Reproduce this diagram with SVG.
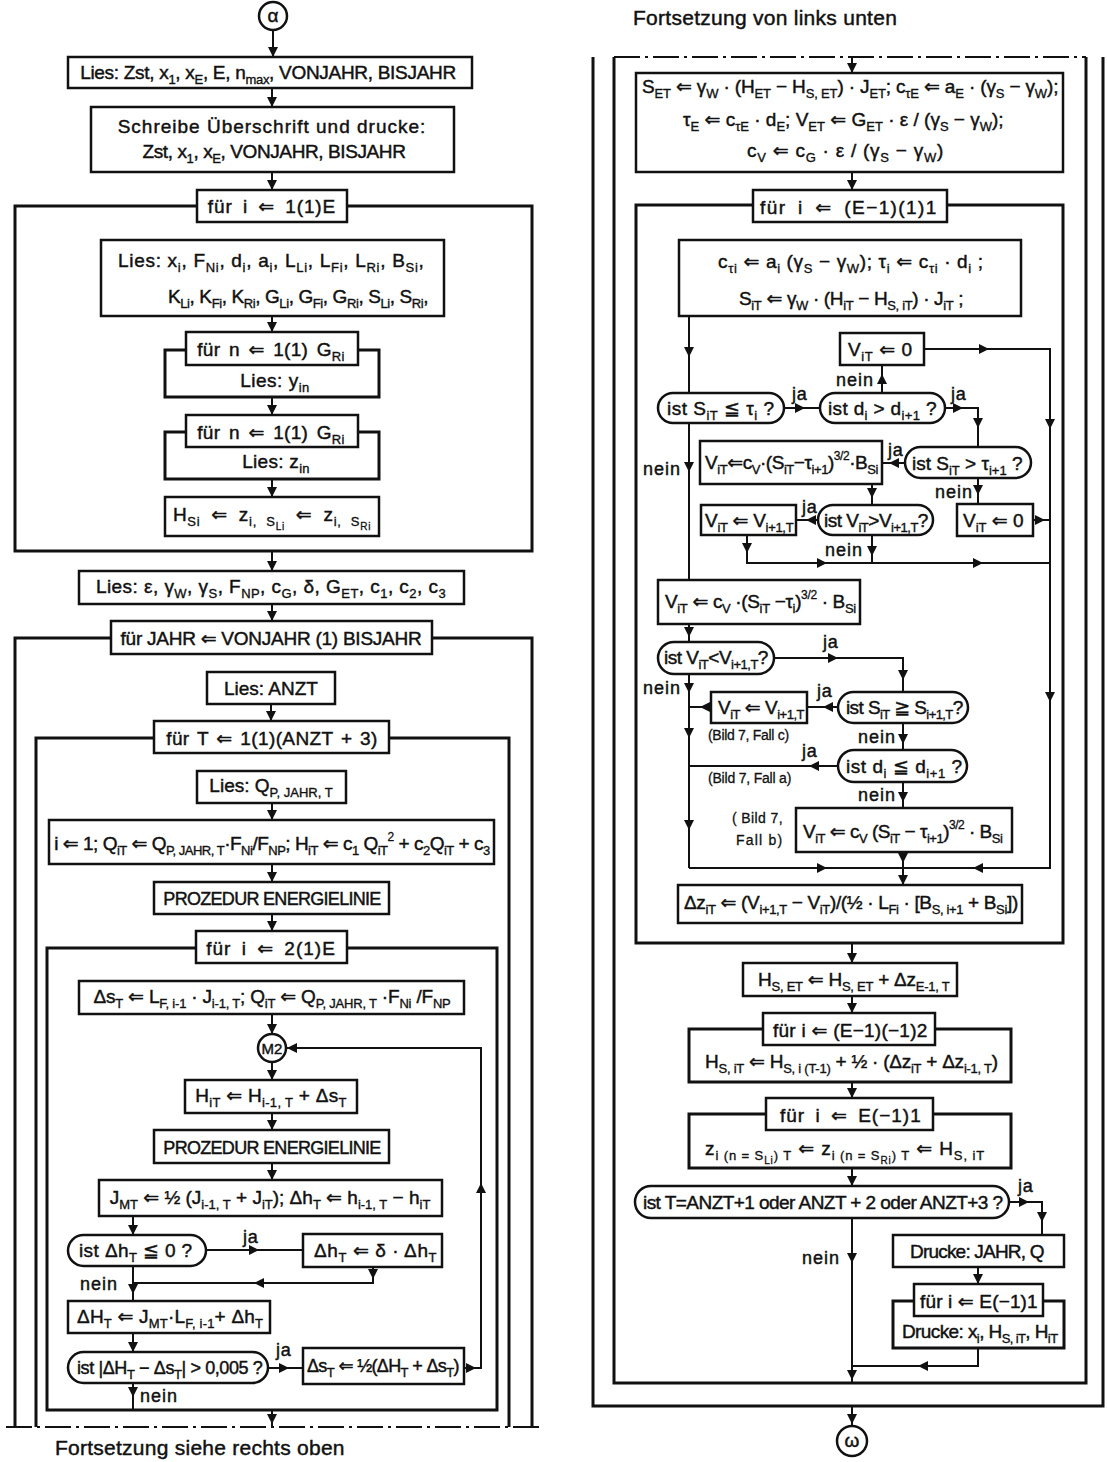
<svg xmlns="http://www.w3.org/2000/svg" width="1107" height="1462" viewBox="0 0 1107 1462">
<style>
text{font-family:"Liberation Sans","DejaVu Sans",sans-serif;font-size:19px;fill:#111;stroke:#111;stroke-width:0.45}
.m{text-anchor:middle}
.lb{font-size:18px}
.nn{letter-spacing:1px}
.ja{letter-spacing:0.8px}
.sm{font-size:14px;stroke-width:0.3}
.hd{font-size:21px}
.b{fill:#fff;stroke:#111;stroke-width:2.5}
.fr{fill:none;stroke:#111;stroke-width:3}
.c{fill:none;stroke:#111;stroke-width:2}
.dd{fill:none;stroke:#111;stroke-width:2;stroke-dasharray:26 5 3 5}
.a{fill:#111}
.sb{font-size:13px;baseline-shift:-5px;stroke-width:0.35}
.ss{font-size:10px;baseline-shift:-9px;stroke-width:0.3}
.sp{font-size:12px;baseline-shift:9px;stroke-width:0.3}
</style>
<defs>
<path id="ad" d="M-5,-10H5L0,0Z"/>
<path id="au" d="M-5,10H5L0,0Z"/>
<path id="ar" d="M-10,-5V5L0,0Z"/>
<path id="al" d="M10,-5V5L0,0Z"/>
</defs>
<rect width="1107" height="1462" fill="#fff"/>

<!-- LEFT COLUMN NODES -->
<g id="n01-alpha"><circle class="b" cx="273" cy="16" r="14"/><text class="m" x="273" y="22">α</text></g>
<g id="n02-lies-zst"><rect class="b" x="68" y="57" width="404" height="31"/><text class="m" x="268" y="79" style="letter-spacing:-0.3px">Lies: Zst, x<tspan class="sb">1</tspan>, x<tspan class="sb">E</tspan>, E, n<tspan class="sb">max</tspan>, VONJAHR, BISJAHR</text></g>
<g id="n03-schreibe"><rect class="b" x="91" y="107" width="363" height="65"/><text class="m" x="272" y="133" style="letter-spacing:1px">Schreibe Überschrift und drucke:</text><text class="m" x="274" y="158" style="letter-spacing:-0.4px">Zst, x<tspan class="sb">1</tspan>, x<tspan class="sb">E</tspan>, VONJAHR, BISJAHR</text></g>
<g id="n04-loop-i1"><path class="fr" d="M197,206H15V551H532V206H347"/><rect class="b" x="197" y="190" width="150" height="32"/><text class="m" x="272" y="213" style="word-spacing:4px;letter-spacing:0.9px">für i ⇐ 1(1)E</text></g>
<g id="n05-lies-x"><rect class="b" x="101" y="240" width="343" height="76"/><text x="118" y="267" style="letter-spacing:0.7px">Lies: x<tspan class="sb">i</tspan>, F<tspan class="sb">Ni</tspan>, d<tspan class="sb">i</tspan>, a<tspan class="sb">i</tspan>, L<tspan class="sb">Li</tspan>, L<tspan class="sb">Fi</tspan>, L<tspan class="sb">Ri</tspan>, B<tspan class="sb">Si</tspan>,</text><text x="168" y="303" style="letter-spacing:-0.4px">K<tspan class="sb">Li</tspan>, K<tspan class="sb">Fi</tspan>, K<tspan class="sb">Ri</tspan>, G<tspan class="sb">Li</tspan>, G<tspan class="sb">Fi</tspan>, G<tspan class="sb">Ri</tspan>, S<tspan class="sb">Li</tspan>, S<tspan class="sb">Ri</tspan>,</text></g>
<g id="n06-loop-n1"><path class="fr" d="M186,350H165V397H379V350H358"/><rect class="b" x="186" y="332" width="172" height="33"/><text class="m" x="271" y="356" style="word-spacing:3px;letter-spacing:0.3px">für n ⇐ 1(1) G<tspan class="sb">Ri</tspan></text><text class="m" x="275" y="387" style="letter-spacing:0.5px">Lies: y<tspan class="sb">in</tspan></text></g>
<g id="n07-loop-n2"><path class="fr" d="M186,432H165V479H379V432H358"/><rect class="b" x="186" y="415" width="172" height="32"/><text class="m" x="271" y="439" style="word-spacing:3px;letter-spacing:0.3px">für n ⇐ 1(1) G<tspan class="sb">Ri</tspan></text><text class="m" x="276" y="468" style="letter-spacing:0.3px">Lies: z<tspan class="sb">in</tspan></text></g>
<g id="n08-hsi"><rect class="b" x="165" y="497" width="214" height="39"/><text class="m" x="272" y="521" style="word-spacing:5px;letter-spacing:0.7px">H<tspan class="sb">Si</tspan> ⇐ z<tspan class="sb">i, S</tspan><tspan class="ss">Li</tspan> ⇐ z<tspan class="sb">i, S</tspan><tspan class="ss">Ri</tspan></text></g>
<g id="n09-lies-eps"><rect class="b" x="79" y="571" width="385" height="33"/><text class="m" x="271" y="593" style="letter-spacing:0.45px">Lies: ε, γ<tspan class="sb">W</tspan>, γ<tspan class="sb">S</tspan>, F<tspan class="sb">NP</tspan>, c<tspan class="sb">G</tspan>, δ, G<tspan class="sb">ET</tspan>, c<tspan class="sb">1</tspan>, c<tspan class="sb">2</tspan>, c<tspan class="sb">3</tspan></text></g>
<g id="n10-loop-jahr"><path class="fr" d="M111,638H15V1427M432,638H532V1427"/><rect class="b" x="111" y="621" width="321" height="33"/><text class="m" x="271" y="645" style="letter-spacing:-0.25px">für JAHR ⇐ VONJAHR (1) BISJAHR</text></g>
<g id="n11-lies-anzt"><rect class="b" x="207" y="672" width="128" height="32"/><text class="m" x="271" y="695">Lies: ANZT</text></g>
<g id="n12-loop-t"><path class="fr" d="M154,738H36V1427M389,738H509V1427"/><rect class="b" x="154" y="721" width="235" height="32"/><text class="m" x="272" y="745" style="word-spacing:2px;letter-spacing:0.4px">für T ⇐ 1(1)(ANZT + 3)</text></g>
<g id="n13-lies-q"><rect class="b" x="197" y="771" width="149" height="32"/><text class="m" x="271" y="792">Lies: Q<tspan class="sb">P, JAHR, T</tspan></text></g>
<g id="n14-init"><rect class="b" x="49" y="820" width="445" height="44"/><text class="m" x="272" y="850" style="letter-spacing:-0.5px">i ⇐ 1; Q<tspan class="sb">iT</tspan> ⇐ Q<tspan class="sb">P, JAHR, T</tspan>·F<tspan class="sb">Ni</tspan>/F<tspan class="sb">NP</tspan>; H<tspan class="sb">iT</tspan> ⇐ c<tspan class="sb">1</tspan> Q<tspan class="sb">iT</tspan><tspan class="sp">2</tspan> + c<tspan class="sb">2</tspan>Q<tspan class="sb">iT</tspan> + c<tspan class="sb">3</tspan></text></g>
<g id="n15-prozedur1"><rect class="b" x="154" y="882" width="235" height="32"/><text class="m" x="272" y="905" style="font-size:18px;letter-spacing:-0.7px">PROZEDUR ENERGIELINIE</text></g>
<g id="n16-loop-i2"><path class="fr" d="M196,948H47V1410H497V948H347"/><rect class="b" x="196" y="931" width="151" height="32"/><text class="m" x="271" y="955" style="word-spacing:4px;letter-spacing:1px">für i ⇐ 2(1)E</text></g>
<g id="n17-ds"><rect class="b" x="79" y="981" width="385" height="33"/><text class="m" x="272" y="1003" style="letter-spacing:-0.2px">Δs<tspan class="sb">T</tspan> ⇐ L<tspan class="sb">F, i-1</tspan> · J<tspan class="sb">i-1, T</tspan>; Q<tspan class="sb">iT</tspan> ⇐ Q<tspan class="sb">P, JAHR, T</tspan> ·F<tspan class="sb">Ni</tspan> /F<tspan class="sb">NP</tspan></text></g>
<g id="n18-m2"><circle class="b" cx="272" cy="1048" r="14"/><text class="m" x="272" y="1054" style="font-size:15px">M2</text></g>
<g id="n19-hit"><rect class="b" x="185" y="1080" width="172" height="33"/><text class="m" x="271" y="1102" style="letter-spacing:0.3px">H<tspan class="sb">iT</tspan> ⇐ H<tspan class="sb">i-1, T</tspan> + Δs<tspan class="sb">T</tspan></text></g>
<g id="n20-prozedur2"><rect class="b" x="154" y="1130" width="235" height="33"/><text class="m" x="272" y="1154" style="font-size:18px;letter-spacing:-0.7px">PROZEDUR ENERGIELINIE</text></g>
<g id="n21-jmt"><rect class="b" x="99" y="1180" width="343" height="36"/><text class="m" x="270" y="1204">J<tspan class="sb">MT</tspan> ⇐ ½ (J<tspan class="sb">i-1, T</tspan> + J<tspan class="sb">iT</tspan>); Δh<tspan class="sb">T</tspan> ⇐ h<tspan class="sb">i-1, T</tspan> − h<tspan class="sb">iT</tspan></text></g>
<g id="n22-dec-dh"><rect class="b" x="68" y="1235" width="138" height="31" rx="15.5"/><text x="79" y="1257" style="letter-spacing:0.4px">ist Δh<tspan class="sb">T</tspan> ≦ 0 ?</text></g>
<g id="n23-dh"><rect class="b" x="303" y="1234" width="139" height="33"/><text x="314" y="1257" style="letter-spacing:0.6px">Δh<tspan class="sb">T</tspan> ⇐ δ · Δh<tspan class="sb">T</tspan></text></g>
<g id="n24-dH"><rect class="b" x="68" y="1301" width="202" height="32"/><text x="77" y="1323" style="letter-spacing:0.2px">ΔH<tspan class="sb">T</tspan> ⇐ J<tspan class="sb">MT</tspan>·L<tspan class="sb">F, i-1</tspan>+ Δh<tspan class="sb">T</tspan></text></g>
<g id="n25-dec-conv"><rect class="b" x="68" y="1352" width="200" height="31" rx="15.5"/><text x="77" y="1374" style="font-size:18px;letter-spacing:-0.4px">ist |ΔH<tspan class="sb">T</tspan> − Δs<tspan class="sb">T</tspan>| &gt; 0,005 ?</text></g>
<g id="n26-ds-new"><rect class="b" x="303" y="1348" width="161" height="36"/><text x="307" y="1372" style="font-size:18px;letter-spacing:-0.65px">Δs<tspan class="sb">T</tspan> ⇐ ½(ΔH<tspan class="sb">T</tspan> + Δs<tspan class="sb">T</tspan>)</text></g>
<g id="n27-footer"><text class="hd" x="55" y="1455" style="letter-spacing:0.25px">Fortsetzung siehe rechts oben</text></g>

<!-- RIGHT COLUMN NODES -->
<g id="r00-header"><text class="hd" x="633" y="25" style="letter-spacing:0.27px">Fortsetzung von links unten</text></g>
<g id="r01-loops-cont"><path class="fr" d="M593,57V1406H1103V57"/><path class="fr" d="M614,57V1383H1086V57"/></g>
<g id="r02-set"><rect class="b" x="636" y="73" width="427" height="99"/><text x="642" y="93" style="letter-spacing:-0.15px">S<tspan class="sb">ET</tspan> ⇐ γ<tspan class="sb">W</tspan> · (H<tspan class="sb">ET</tspan> − H<tspan class="sb">S, ET</tspan>) · J<tspan class="sb">ET</tspan>; c<tspan class="sb">τE</tspan> ⇐ a<tspan class="sb">E</tspan> · (γ<tspan class="sb">S</tspan> − γ<tspan class="sb">W</tspan>);</text><text x="683" y="126">τ<tspan class="sb">E</tspan> ⇐ c<tspan class="sb">τE</tspan> · d<tspan class="sb">E</tspan>; V<tspan class="sb">ET</tspan> ⇐ G<tspan class="sb">ET</tspan> · ε / (γ<tspan class="sb">S</tspan> − γ<tspan class="sb">W</tspan>);</text><text x="747" y="157" style="letter-spacing:0.75px">c<tspan class="sb">V</tspan> ⇐ c<tspan class="sb">G</tspan> · ε / (γ<tspan class="sb">S</tspan> − γ<tspan class="sb">W</tspan>)</text></g>
<g id="r03-loop-i3"><path class="fr" d="M753,205H636V943H1063V205H947"/><rect class="b" x="753" y="190" width="194" height="32"/><text x="760" y="214" style="word-spacing:5px;letter-spacing:1.4px">für i ⇐ (E−1)(1)1</text></g>
<g id="r04-ctau"><rect class="b" x="679" y="240" width="342" height="76"/><text x="718" y="268" style="letter-spacing:0.65px">c<tspan class="sb">τi</tspan> ⇐ a<tspan class="sb">i</tspan> (γ<tspan class="sb">S</tspan> − γ<tspan class="sb">W</tspan>); τ<tspan class="sb">i</tspan> ⇐ c<tspan class="sb">τi</tspan> · d<tspan class="sb">i</tspan> ;</text><text x="739" y="305" style="letter-spacing:-0.35px">S<tspan class="sb">iT</tspan> ⇐ γ<tspan class="sb">W</tspan> · (H<tspan class="sb">iT</tspan> − H<tspan class="sb">S, iT</tspan>) · J<tspan class="sb">iT</tspan> ;</text></g>
<g id="r05-v0-a"><rect class="b" x="840" y="333" width="84" height="32"/><text x="848" y="356" style="letter-spacing:0.6px">V<tspan class="sb">iT</tspan> ⇐ 0</text></g>
<g id="r06-dec-s-tau"><rect class="b" x="658" y="393" width="126" height="30" rx="15"/><text x="667" y="415" style="letter-spacing:0.5px">ist S<tspan class="sb">iT</tspan> ≦ τ<tspan class="sb">i</tspan> ?</text></g>
<g id="r07-dec-d"><rect class="b" x="820" y="393" width="125" height="30" rx="15"/><text x="828" y="415" style="letter-spacing:0.35px">ist d<tspan class="sb">i</tspan> &gt; d<tspan class="sb">i+1</tspan> ?</text></g>
<g id="r08-dec-s-tau1"><rect class="b" x="905" y="447" width="126" height="31" rx="15.5"/><text x="912" y="470">ist S<tspan class="sb">iT</tspan> &gt; τ<tspan class="sb">i+1</tspan> ?</text></g>
<g id="r09-v-ctau1"><rect class="b" x="700" y="441" width="182" height="43"/><text x="705" y="469" style="letter-spacing:-0.45px">V<tspan class="sb">iT</tspan>⇐c<tspan class="sb">V</tspan>·(S<tspan class="sb">iT</tspan>−τ<tspan class="sb">i+1</tspan>)<tspan class="sp">3/2</tspan>·B<tspan class="sb">Si</tspan></text></g>
<g id="r10-v0-b"><rect class="b" x="957" y="504" width="76" height="32"/><text x="963" y="527">V<tspan class="sb">iT</tspan> ⇐ 0</text></g>
<g id="r11-dec-vgt"><rect class="b" x="818" y="505" width="115" height="30" rx="15"/><text x="824" y="527" style="letter-spacing:-0.5px">ist V<tspan class="sb">iT</tspan>&gt;V<tspan class="sb">i+1,T</tspan>?</text></g>
<g id="r12-v-next-a"><rect class="b" x="701" y="505" width="95" height="30"/><text x="705" y="527" style="letter-spacing:-0.3px">V<tspan class="sb">iT</tspan> ⇐ V<tspan class="sb">i+1,T</tspan></text></g>
<g id="r13-v-ctau"><rect class="b" x="658" y="580" width="202" height="44"/><text x="665" y="608" style="letter-spacing:-0.35px">V<tspan class="sb">iT</tspan> ⇐ c<tspan class="sb">V</tspan> ·(S<tspan class="sb">iT</tspan> −τ<tspan class="sb">i</tspan>)<tspan class="sp">3/2</tspan> · B<tspan class="sb">Si</tspan></text></g>
<g id="r14-dec-vlt"><rect class="b" x="658" y="642" width="116" height="32" rx="16"/><text x="664" y="664" style="letter-spacing:-0.5px">ist V<tspan class="sb">iT</tspan>&lt;V<tspan class="sb">i+1,T</tspan>?</text></g>
<g id="r15-dec-sge"><rect class="b" x="838" y="692" width="130" height="31" rx="15.5"/><text x="846" y="714" style="letter-spacing:-0.6px">ist S<tspan class="sb">iT</tspan> ≧ S<tspan class="sb">i+1,T</tspan>?</text></g>
<g id="r16-v-next-b"><rect class="b" x="711" y="692" width="96" height="31"/><text x="718" y="714" style="letter-spacing:-0.5px">V<tspan class="sb">iT</tspan> ⇐ V<tspan class="sb">i+1,T</tspan></text></g>
<g id="r17-dec-dle"><rect class="b" x="838" y="750" width="129" height="32" rx="16"/><text x="846" y="773" style="letter-spacing:0.55px">ist d<tspan class="sb">i</tspan> ≦ d<tspan class="sb">i+1</tspan> ?</text></g>
<g id="r18-v-ctau1-b"><rect class="b" x="796" y="808" width="216" height="44"/><text x="803" y="838" style="letter-spacing:-0.5px">V<tspan class="sb">iT</tspan> ⇐ c<tspan class="sb">V</tspan> (S<tspan class="sb">iT</tspan> − τ<tspan class="sb">i+1</tspan>)<tspan class="sp">3/2</tspan> · B<tspan class="sb">Si</tspan></text></g>
<g id="r19-dz"><rect class="b" x="678" y="885" width="344" height="38"/><text x="684" y="909" style="letter-spacing:-0.35px">Δz<tspan class="sb">iT</tspan> ⇐ (V<tspan class="sb">i+1,T</tspan> − V<tspan class="sb">iT</tspan>)/(½ · L<tspan class="sb">Fi</tspan> · [B<tspan class="sb">S, i+1</tspan> + B<tspan class="sb">Si</tspan>])</text></g>
<g id="r20-hset"><rect class="b" x="743" y="963" width="214" height="33"/><text x="758" y="986" style="letter-spacing:-0.25px">H<tspan class="sb">S, ET</tspan> ⇐ H<tspan class="sb">S, ET</tspan> + Δz<tspan class="sb">E-1, T</tspan></text></g>
<g id="r21-loop-hs"><path class="fr" d="M763,1029H689V1082H1011V1029H935"/><rect class="b" x="763" y="1013" width="172" height="32"/><text x="773" y="1037" style="letter-spacing:0.25px">für i ⇐ (E−1)(−1)2</text><text x="705" y="1068" style="letter-spacing:-0.25px">H<tspan class="sb">S, iT</tspan> ⇐ H<tspan class="sb">S, i (T-1)</tspan> + ½ · (Δz<tspan class="sb">iT</tspan> + Δz<tspan class="sb">i-1, T</tspan>)</text></g>
<g id="r22-loop-z"><path class="fr" d="M766,1114H689V1168H1011V1114H933"/><rect class="b" x="766" y="1098" width="167" height="32"/><text x="780" y="1122" style="word-spacing:4px;letter-spacing:1px">für i ⇐ E(−1)1</text><text x="705" y="1155" style="letter-spacing:0.9px">z<tspan class="sb">i (n = S</tspan><tspan class="ss">Li</tspan><tspan class="sb">) T</tspan> ⇐ z<tspan class="sb">i (n = S</tspan><tspan class="ss">Ri</tspan><tspan class="sb">) T</tspan> ⇐ H<tspan class="sb">S, iT</tspan></text></g>
<g id="r23-dec-t"><rect class="b" x="635" y="1186" width="374" height="32" rx="16"/><text x="643" y="1209" style="letter-spacing:-0.55px">ist T=ANZT+1 oder ANZT + 2 oder ANZT+3 ?</text></g>
<g id="r24-print-jahr"><rect class="b" x="893" y="1235" width="171" height="32"/><text x="910" y="1258" style="letter-spacing:-0.8px">Drucke: JAHR, Q</text></g>
<g id="r25-loop-print"><path class="fr" d="M914,1301H893V1348H1064V1301H1043"/><rect class="b" x="914" y="1284" width="129" height="32"/><text x="920" y="1308" style="letter-spacing:0.15px">für i ⇐ E(−1)1</text><text x="902" y="1338" style="letter-spacing:-0.6px">Drucke: x<tspan class="sb">i</tspan>, H<tspan class="sb">S, iT</tspan>, H<tspan class="sb">iT</tspan></text></g>
<g id="r26-omega"><circle class="b" cx="852" cy="1441" r="15"/><text class="m" x="852" y="1447">ω</text></g>

<!-- CONNECTORS -->
<g id="connectors">
<path class="c" d="M273,30V57M272,88V107M272,172V190M272,316V332M272,397V415M272,479V497M272,551V571M272,604V621M271,704V721M272,803V820M272,864V882M272,914V931M272,1014V1034M272,1062V1080M272,1113V1130M272,1163V1180M133,1216V1235M206,1250H303M373,1267V1283H133M133,1266V1301M133,1333V1352M268,1368H303M464,1368H481V1048H286M133,1383V1410M272,1410V1427"/>
<path class="dd" d="M6,1427H540"/>
<use class="a" href="#ad" x="273" y="57"/><use class="a" href="#ad" x="272" y="107"/><use class="a" href="#ad" x="272" y="190"/><use class="a" href="#ad" x="272" y="332"/><use class="a" href="#ad" x="272" y="415"/><use class="a" href="#ad" x="272" y="497"/><use class="a" href="#ad" x="272" y="571"/><use class="a" href="#ad" x="272" y="621"/><use class="a" href="#ad" x="271" y="721"/><use class="a" href="#ad" x="272" y="820"/><use class="a" href="#ad" x="272" y="882"/><use class="a" href="#ad" x="272" y="931"/><use class="a" href="#ad" x="272" y="1034"/><use class="a" href="#ad" x="272" y="1080"/><use class="a" href="#ad" x="272" y="1130"/><use class="a" href="#ad" x="272" y="1180"/><use class="a" href="#ad" x="133" y="1235"/>
<use class="a" href="#ar" x="259" y="1250"/><use class="a" href="#ad" x="373" y="1279"/><use class="a" href="#al" x="254" y="1283"/><use class="a" href="#ad" x="133" y="1294"/><use class="a" href="#ad" x="133" y="1352"/><use class="a" href="#ar" x="289" y="1368"/><use class="a" href="#ar" x="476" y="1368"/><use class="a" href="#au" x="481" y="1183"/><use class="a" href="#al" x="287" y="1048"/><use class="a" href="#ad" x="133" y="1397"/><use class="a" href="#ad" x="272" y="1424"/>
<text class="lb ja" x="243" y="1243">ja</text><text class="lb nn" x="80" y="1290">nein</text><text class="lb ja" x="276" y="1356">ja</text><text class="lb nn" x="140" y="1402">nein</text>

<path class="dd" d="M614,57H1086"/>
<path class="c" d="M852,57V73M852,172V190M689,316V393M689,423V580M784,408H820M882,393V365M945,408H978V447M924,349H1050V868H903M905,463H882M978,478V504M1033,520H1050M872,484V505M818,520H796M747,535V563H1050M872,535V563M689,624V642M774,658H903V692M689,674V868M838,707H807M711,707H689M903,723V750M838,766H689M903,782V808M903,852V885M689,868H1050M852,943V963M852,996V1013M852,1082V1098M852,1168V1186M1009,1202H1042V1235M852,1218V1383M978,1267V1284M978,1348V1366H852M852,1406V1426"/>
<use class="a" href="#ad" x="852" y="73"/><use class="a" href="#ad" x="852" y="190"/><use class="a" href="#ad" x="689" y="357"/><use class="a" href="#ad" x="689" y="472"/><use class="a" href="#ar" x="805" y="408"/><use class="a" href="#au" x="882" y="374"/><use class="a" href="#ar" x="963" y="408"/><use class="a" href="#ad" x="978" y="428"/><use class="a" href="#ar" x="989" y="349"/><use class="a" href="#ad" x="1050" y="429"/><use class="a" href="#ad" x="1050" y="702"/><use class="a" href="#al" x="973" y="868"/><use class="a" href="#al" x="889" y="463"/><use class="a" href="#ad" x="978" y="495"/><use class="a" href="#ar" x="1045" y="520"/><use class="a" href="#ad" x="872" y="498"/><use class="a" href="#al" x="806" y="520"/><use class="a" href="#ad" x="747" y="553"/><use class="a" href="#ad" x="872" y="556"/><use class="a" href="#ar" x="827" y="563"/><use class="a" href="#ar" x="983" y="563"/>
<use class="a" href="#ad" x="689" y="637"/><use class="a" href="#ar" x="838" y="658"/><use class="a" href="#ad" x="903" y="680"/><use class="a" href="#ad" x="689" y="693"/><use class="a" href="#ad" x="689" y="738"/><use class="a" href="#ad" x="689" y="830"/><use class="a" href="#al" x="823" y="707"/><use class="a" href="#al" x="700" y="707"/><use class="a" href="#ad" x="903" y="744"/><use class="a" href="#al" x="809" y="766"/><use class="a" href="#ad" x="903" y="802"/><use class="a" href="#ad" x="903" y="863"/><use class="a" href="#ad" x="903" y="885"/><use class="a" href="#ar" x="827" y="868"/>
<use class="a" href="#ad" x="852" y="963"/><use class="a" href="#ad" x="852" y="1013"/><use class="a" href="#ad" x="852" y="1098"/><use class="a" href="#ad" x="852" y="1186"/><use class="a" href="#ar" x="1029" y="1202"/><use class="a" href="#ad" x="1042" y="1222"/><use class="a" href="#ad" x="852" y="1263"/><use class="a" href="#ad" x="852" y="1380"/><use class="a" href="#ad" x="978" y="1284"/><use class="a" href="#al" x="918" y="1366"/><use class="a" href="#ad" x="852" y="1424"/>
<text class="lb nn" x="836" y="386">nein</text><text class="lb ja" x="792" y="400">ja</text><text class="lb ja" x="951" y="400">ja</text><text class="lb ja" x="888" y="456">ja</text><text class="lb nn" x="643" y="475">nein</text><text class="lb nn" x="935" y="498">nein</text><text class="lb ja" x="802" y="513">ja</text><text class="lb nn" x="825" y="556">nein</text><text class="lb ja" x="823" y="648">ja</text><text class="lb nn" x="643" y="694">nein</text><text class="lb ja" x="817" y="697">ja</text><text class="lb nn" x="858" y="743">nein</text><text class="lb ja" x="802" y="757">ja</text><text class="lb nn" x="858" y="801">nein</text><text class="lb ja" x="1018" y="1192">ja</text><text class="lb nn" x="802" y="1264">nein</text>
<text class="sm" x="708" y="740" style="letter-spacing:-0.3px">(Bild 7, Fall c)</text><text class="sm" x="708" y="783" style="letter-spacing:-0.2px">(Bild 7, Fall a)</text><text class="sm" x="732" y="823" style="letter-spacing:0.4px">( Bild 7,</text><text class="sm" x="736" y="845" style="letter-spacing:1.2px">Fall b)</text>
</g>
</svg>
